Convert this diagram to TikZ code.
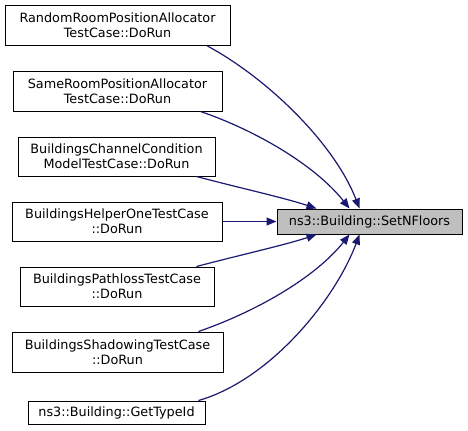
\documentclass[tikz,border=0pt]{standalone}
\usepackage{fontspec}
\setmainfont{DejaVu Sans}
\usetikzlibrary{arrows.meta,calc}
\begin{document}
\begin{tikzpicture}[x=0.75pt,y=-0.75pt,
  box/.style={draw=black,fill=white,line width=0.75pt,rectangle,inner sep=0pt,align=center,
    font=\fontsize{9.6}{11.25}\selectfont},
  tgt/.style={box,fill=black!25},
  edge/.style={draw={rgb,255:red,25;green,25;blue,112},line width=0.9pt,
    -{Triangle[length=7.5pt,width=6pt]},fill=none}]
\useasboundingbox (0,0) rectangle (468,430);
\node[box,minimum width=168.75pt,minimum height=30pt] (b1) at (117.5,25.5) {RandomRoomPositionAllocator\\TestCase::DoRun};
\node[box,minimum width=156.75pt,minimum height=30pt] (b2) at (117.5,91) {SameRoomPositionAllocator\\TestCase::DoRun};
\node[box,minimum width=147.75pt,minimum height=29.25pt] (b3) at (116.5,156.5) {BuildingsChannelCondition\\ModelTestCase::DoRun};
\node[box,minimum width=157.5pt,minimum height=29.25pt] (b4) at (117,221.5) {BuildingsHelperOneTestCase\\::DoRun};
\node[box,minimum width=145.5pt,minimum height=29.25pt] (b5) at (117,286.5) {BuildingsPathlossTestCase\\::DoRun};
\node[box,minimum width=158.25pt,minimum height=30pt] (b6) at (117.5,352) {BuildingsShadowingTestCase\\::DoRun};
\node[box,minimum width=132.75pt,minimum height=17.25pt] (b7) at (116.5,412.5) {ns3::Building::GetTypeId};
\node[tgt,minimum width=138.75pt,minimum height=18.75pt] (t) at (369.5,221.5) {ns3::Building::SetNFloors};
\draw[edge] ($(b1.south east)+(-23,0)$) .. controls (270,80) and (335,145) .. ($(t.north west)+(83,0)$);
\draw[edge] ($(b2.south east)+(-22,0)$) .. controls (255,130) and (315,165) .. ($(t.north west)+(73,0)$);
\draw[edge] ($(b3.south east)+(-19,0)$) .. controls (240,188) and (285,198) .. ($(t.north west)+(40,0)$);
\draw[edge] (b4.east) -- (t.west);
\draw[edge] ($(b5.north east)+(-18,0)$) .. controls (240,255) and (285,245) .. ($(t.south west)+(40,0)$);
\draw[edge] ($(b6.north east)+(-25,0)$) .. controls (255,312) and (315,278) .. ($(t.south west)+(73,0)$);
\draw[edge] ($(b7.north east)+(-7,0)$) .. controls (270,380) and (335,300) .. ($(t.south west)+(83,0)$);
\end{tikzpicture}
\end{document}
